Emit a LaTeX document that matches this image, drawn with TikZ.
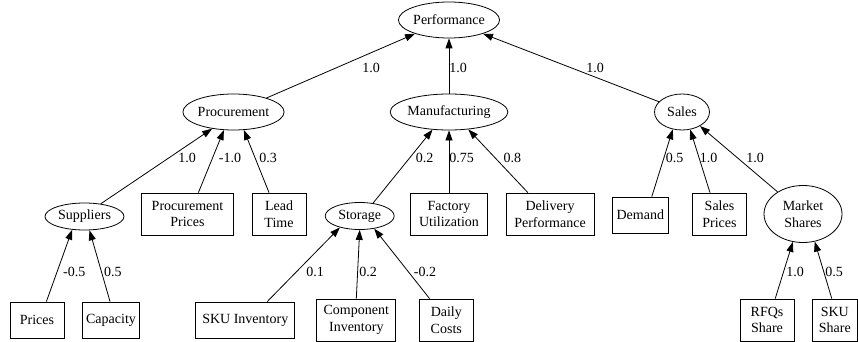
\documentclass[tikz,border=0pt]{standalone}
\usepackage{fontspec}
\setmainfont{Liberation Serif}
\usetikzlibrary{arrows.meta,shapes.geometric}

\begin{document}
\begin{tikzpicture}[x=1pt, y=-1pt, >={Triangle[length=10pt,width=7pt]}, line width=0.8pt,
	font=\fontsize{14}{16.8}\selectfont,
	oval/.style={draw, ellipse, inner sep=0pt, minimum height=36pt},
	box/.style={draw, rectangle, inner sep=0pt, align=center, minimum height=42pt},
	wt/.style={inner sep=0pt}]
	
	\useasboundingbox (0,0) rectangle (858,342);
	
	% Nút gốc và tầng 1
	\node[oval, minimum width=100pt] (perf) at (449,20) {Performance};
	\node[oval, minimum width=99pt] (proc) at (233.5,112) {Procurement};
	\node[oval, minimum width=110pt] (manu) at (449,112) {Manufacturing};
	\node[oval, minimum width=55pt] (sales) at (682,112) {Sales};
	
	% Tầng 2
	\node[oval, minimum width=79pt, minimum height=27pt] (sup) at (84.5,216.5) {Suppliers};
	\node[box, minimum width=92pt] (pp) at (187.5,214) {Procurement\\Prices};
	\node[box, minimum width=54pt] (lt) at (279,214) {Lead\\Time};
	\node[oval, minimum width=69pt, minimum height=27pt] (stor) at (359.7,216) {Storage};
	\node[box, minimum width=77pt] (fu) at (449,214) {Factory\\Utilization};
	\node[box, minimum width=88pt] (dp) at (550,214) {Delivery\\Performance};
	\node[box, minimum width=56pt, minimum height=36pt] (dem) at (640.3,215) {Demand};
	\node[box, minimum width=54pt] (sp) at (719.5,214) {Sales\\Prices};
	\node[oval, minimum width=78pt, minimum height=57pt, align=center] (ms) at (803,214) {Market\\Shares};
	
	% Tầng 3
	\node[box, minimum width=54pt, minimum height=36pt] (pr) at (37,320) {Prices};
	\node[box, minimum width=57pt, minimum height=36pt] (cap) at (111,320) {Capacity};
	\node[box, minimum width=99pt, minimum height=36pt] (sku) at (245.3,320) {SKU Inventory};
	\node[box, minimum width=79pt] (ci) at (356.3,320) {Component\\Inventory};
	\node[box, minimum width=54pt] (dc) at (446.3,320) {Daily\\Costs};
	\node[box, minimum width=54pt] (rfq) at (767,320) {RFQs\\Share};
	\node[box, minimum width=45pt] (ss) at (834.8,320) {SKU\\Share};
	
	% Các cạnh lên nút gốc
	\draw[->] (proc.23) -- (perf.-158);
	\draw[->] (manu.north) -- (perf.south);
	\draw[->] (sales.156) -- (perf.-22);
	
	% Các cạnh lên tầng 1
	\draw[->] (sup.38) -- (proc.-142);
	\draw[->] (pp.63) -- (proc.-118);
	\draw[->] (lt.115) -- (proc.-60);
	\draw[->] (stor.44) -- (manu.-133);
	\draw[->] (fu.north) -- (manu.south);
	\draw[->] (dp.136) -- (manu.-42);
	\draw[->] (dem.58) -- (sales.-118);
	\draw[->] (sp.114) -- (sales.-65);
	\draw[->] (ms.139) -- (sales.-38);
	
	% Các cạnh lên tầng 2
	\draw[->] (pr.63) -- (sup.-133);
	\draw[->] (cap.93) -- (sup.-70);
	\draw[->] (sku.40) -- (stor.-150);
	\draw[->] (ci.north) -- (stor.south);
	\draw[->] (dc.128) -- (stor.-41);
	\draw[->] (rfq.69) -- (ms.-110);
	\draw[->] (ss.98) -- (ms.-67);
	
	% Trọng số trên các cạnh
	\node[wt] (w1) at (371,68) {1.0};
	\node[wt] (w2) at (458,68) {1.0};
	\node[wt] (w3) at (595,68) {1.0};
	
	\node[wt] (w4) at (187,158) {1.0};
	\node[wt] (w5) at (230,158) {-1.0};
	\node[wt] (w6) at (268,158) {0.3};
	\node[wt] (w7) at (424.7,158) {0.2};
	\node[wt] (w8) at (461.7,158) {0.75};
	\node[wt] (w9) at (512.3,158) {0.8};
	\node[wt] (w10) at (674.7,158) {0.5};
	\node[wt] (w11) at (708.7,158) {1.0};
	\node[wt] (w12) at (755,158) {1.0};
	
	\node[wt] (w13) at (74.2,272) {-0.5};
	\node[wt] (w14) at (112.8,272) {0.5};
	\node[wt] (w15) at (315,272) {0.1};
	\node[wt] (w16) at (368,272) {0.2};
	\node[wt] (w17) at (425,272) {-0.2};
	\node[wt] (w18) at (795,272) {1.0};
	\node[wt] (w19) at (834,272) {0.5};
	
\end{tikzpicture}
\end{document}
